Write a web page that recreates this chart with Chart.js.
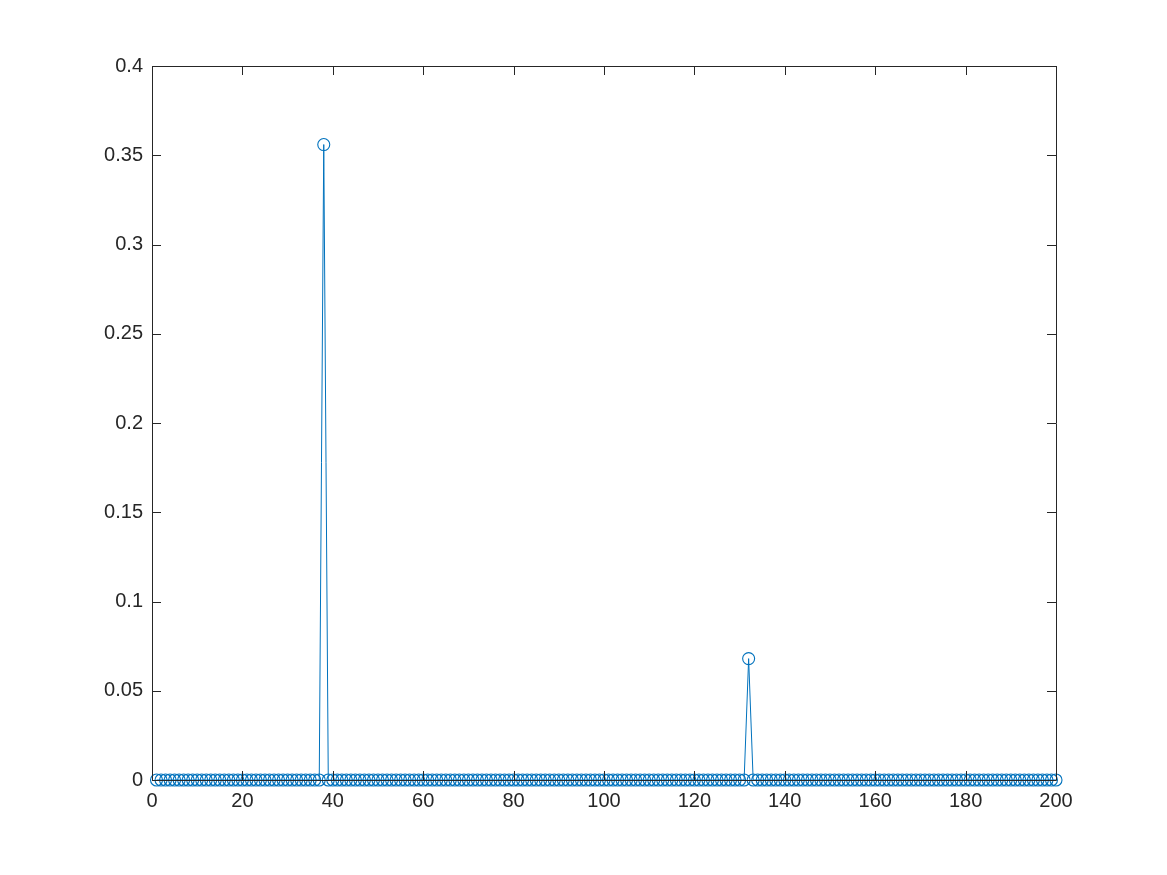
<!DOCTYPE html>
<html>
<head>
<meta charset="utf-8">
<script src="https://cdn.jsdelivr.net/npm/chart.js@4/dist/chart.umd.min.js"></script>
<style>
html,body{margin:0;padding:0;background:#fff;}
#wrap{width:1167px;height:875px;position:relative;}
</style>
</head>
<body>
<div id="wrap"><canvas id="c" width="1167" height="875"></canvas></div>
<script>
// sample index (x)
const sampleIndex = [
  1,2,3,4,5,6,7,8,9,10,11,12,13,14,15,16,17,18,19,20,
  21,22,23,24,25,26,27,28,29,30,31,32,33,34,35,36,37,38,39,40,
  41,42,43,44,45,46,47,48,49,50,51,52,53,54,55,56,57,58,59,60,
  61,62,63,64,65,66,67,68,69,70,71,72,73,74,75,76,77,78,79,80,
  81,82,83,84,85,86,87,88,89,90,91,92,93,94,95,96,97,98,99,100,
  101,102,103,104,105,106,107,108,109,110,111,112,113,114,115,116,117,118,119,120,
  121,122,123,124,125,126,127,128,129,130,131,132,133,134,135,136,137,138,139,140,
  141,142,143,144,145,146,147,148,149,150,151,152,153,154,155,156,157,158,159,160,
  161,162,163,164,165,166,167,168,169,170,171,172,173,174,175,176,177,178,179,180,
  181,182,183,184,185,186,187,188,189,190,191,192,193,194,195,196,197,198,199,200
];
// series values (y)
const seriesValues = [
  0,0,0,0,0,0,0,0,0,0,0,0,0,0,0,0,0,0,0,0,
  0,0,0,0,0,0,0,0,0,0,0,0,0,0,0,0,0,0.356,0,0,
  0,0,0,0,0,0,0,0,0,0,0,0,0,0,0,0,0,0,0,0,
  0,0,0,0,0,0,0,0,0,0,0,0,0,0,0,0,0,0,0,0,
  0,0,0,0,0,0,0,0,0,0,0,0,0,0,0,0,0,0,0,0,
  0,0,0,0,0,0,0,0,0,0,0,0,0,0,0,0,0,0,0,0,
  0,0,0,0,0,0,0,0,0,0,0,0.068,0,0,0,0,0,0,0,0,
  0,0,0,0,0,0,0,0,0,0,0,0,0,0,0,0,0,0,0,0,
  0,0,0,0,0,0,0,0,0,0,0,0,0,0,0,0,0,0,0,0,
  0,0,0,0,0,0,0,0,0,0,0,0,0,0,0,0,0,0,0,0
];
const xTicks = [0,20,40,60,80,100,120,140,160,180,200];
const yTicks = [0,0.05,0.1,0.15,0.2,0.25,0.3,0.35,0.4];

const points = sampleIndex.map((x,i)=>({x:x,y:seriesValues[i]}));
const FONT = {family:"'Liberation Sans', Arial, Helvetica, sans-serif", size:20};
const AXC = '#262626';
const TICKLEN = 9;

const boxPlugin = {
  id:'box',
  afterDatasetsDraw(chart){
    const {ctx, chartArea:a, scales} = chart;
    ctx.save();
    ctx.strokeStyle = AXC;
    ctx.lineWidth = 1;
    ctx.beginPath();
    ctx.rect(Math.round(a.left)+0.5, Math.round(a.top)+0.5, Math.round(a.right-a.left), Math.round(a.bottom-a.top));
    ctx.stroke();
    ctx.beginPath();
    xTicks.forEach(v=>{
      const px = Math.round(scales.x.getPixelForValue(v))+0.5;
      ctx.moveTo(px, a.bottom); ctx.lineTo(px, a.bottom-TICKLEN);
      ctx.moveTo(px, a.top); ctx.lineTo(px, a.top+TICKLEN);
    });
    yTicks.forEach(v=>{
      const py = Math.round(scales.y.getPixelForValue(v))+0.5;
      ctx.moveTo(a.left, py); ctx.lineTo(a.left+TICKLEN, py);
      ctx.moveTo(a.right, py); ctx.lineTo(a.right-TICKLEN, py);
    });
    ctx.stroke();
    ctx.restore();
  }
};

new Chart(document.getElementById('c'), {
  type:'line',
  data:{datasets:[{
    data:points,
    borderColor:'#0072BD',
    backgroundColor:'rgba(0,0,0,0)',
    borderWidth:1,
    pointRadius:6,
    pointHoverRadius:6,
    pointBorderWidth:1.1,
    pointBorderColor:'#0072BD',
    pointBackgroundColor:'rgba(0,0,0,0)',
    pointStyle:'circle',
    tension:0,
    clip:false
  }]},
  options:{
    responsive:false,
    animation:false,
    events:[],
    layout:{padding:{left:0,top:66,right:111,bottom:0}},
    plugins:{legend:{display:false},tooltip:{enabled:false}},
    scales:{
      x:{
        type:'linear', min:0, max:200,
        afterBuildTicks(s){ s.ticks = xTicks.map(v=>({value:v})); },
        afterFit(s){ s.height = 95; },
        ticks:{font:FONT,color:AXC,padding:9,maxRotation:0,autoSkip:false,callback:v=>String(v)},
        grid:{display:false,drawTicks:false},
        border:{display:false}
      },
      y:{
        type:'linear', min:0, max:0.4,
        afterBuildTicks(s){ s.ticks = yTicks.map(v=>({value:v})); },
        afterFit(s){ s.width = 152; },
        ticks:{font:FONT,color:AXC,padding:9,autoSkip:false,callback:v=>String(+v.toFixed(2))},
        grid:{display:false,drawTicks:false},
        border:{display:false}
      }
    }
  },
  plugins:[boxPlugin]
});
</script>
</body>
</html>
